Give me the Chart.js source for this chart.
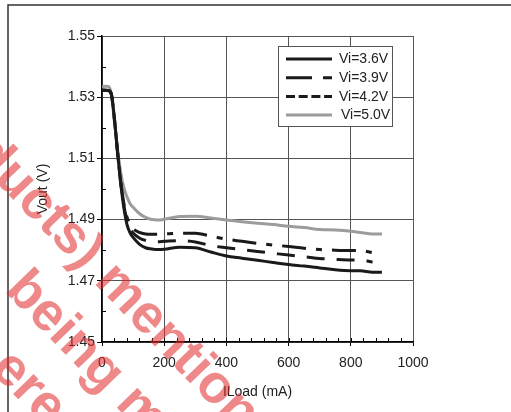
<!DOCTYPE html>
<html>
<head>
<meta charset="utf-8">
<script src="https://cdn.jsdelivr.net/npm/chart.js@4.4.1/dist/chart.umd.min.js"></script>
<style>
  html, body { margin: 0; padding: 0; background: #fff; }
  #wrap { width: 511px; height: 412px; }
</style>
</head>
<body>
<div id="wrap"><canvas id="vout" width="511" height="412"></canvas></div>
<script>
// load current (mA), shared by all curves
const loadMa = [0, 10, 20, 30, 40, 50, 60, 70, 80, 90, 100, 120, 140, 160, 180, 200,
                250, 300, 350, 400, 450, 500, 550, 600, 650, 700, 750, 800, 830, 870, 900];

// Vout (V) per input voltage
const vout36 = [1.5322, 1.5323, 1.5322, 1.5310, 1.5230, 1.5120, 1.5020, 1.4940, 1.4885, 1.4857,
                1.4842, 1.4820, 1.4808, 1.4804, 1.4802, 1.4803, 1.4810, 1.4808, 1.4794, 1.4781,
                1.4774, 1.4767, 1.4760, 1.4753, 1.4748, 1.4742, 1.4736, 1.4733, 1.4733, 1.4728, 1.4728];
const vout39 = [1.5322, 1.5323, 1.5322, 1.5310, 1.5228, 1.5120, 1.5025, 1.4955, 1.4910, 1.4885,
                1.4870, 1.4858, 1.4853, 1.4852, 1.4852, 1.4853, 1.4855, 1.4855, 1.4846, 1.4836,
                1.4829, 1.4822, 1.4817, 1.4812, 1.4806, 1.4802, 1.4800, 1.4799, 1.4799, 1.4792, null];
const vout42 = [1.5322, 1.5323, 1.5322, 1.5310, 1.5228, 1.5120, 1.5022, 1.4948, 1.4900, 1.4870,
                1.4856, 1.4840, 1.4832, 1.4829, 1.4828, 1.4829, 1.4831, 1.4827, 1.4815, 1.4808,
                1.4802, 1.4796, 1.4790, 1.4784, 1.4779, 1.4773, 1.4770, 1.4768, 1.4768, 1.4761, null];
const vout50 = [1.5334, 1.5336, 1.5335, 1.5310, 1.5220, 1.5130, 1.5055, 1.5005, 1.4975, 1.4953,
                1.4940, 1.4920, 1.4907, 1.4900, 1.4899, 1.4901, 1.4910, 1.4911, 1.4905, 1.4899,
                1.4893, 1.4888, 1.4884, 1.4878, 1.4874, 1.4868, 1.4866, 1.4862, 1.4858, 1.4853, 1.4853];

const seriesLabels = ["Vi=3.6V", "Vi=3.9V", "Vi=4.2V", "Vi=5.0V"];
const xTicks = [0, 200, 400, 600, 800, 1000];
const yTicks = [1.45, 1.47, 1.49, 1.51, 1.53, 1.55];

const FONT = "'Liberation Sans', Arial, sans-serif";

function pts(ys) {
    return loadMa.map((x, i) => ({ x: x, y: ys[i] }));
}

// frame around the figure
const framePlugin = {
    id: "frame",
    beforeDraw(chart) {
        const ctx = chart.ctx;
        ctx.save();
        ctx.fillStyle = "#fff";
        ctx.fillRect(0, 0, chart.width, chart.height);
        ctx.strokeStyle = "#333";
        ctx.lineWidth = 1.5;
        ctx.beginPath();
        ctx.moveTo(8, chart.height);
        ctx.lineTo(8, 5);
        ctx.lineTo(chart.width, 5);
        ctx.stroke();
        ctx.restore();
    }
};

// small inward ticks between the labelled ones
const minorTicks = {
    id: "minorTicks",
    afterDatasetsDraw(chart) {
        const ctx = chart.ctx, xs = chart.scales.x, ys = chart.scales.y;
        const a = chart.chartArea;
        ctx.save();
        ctx.strokeStyle = "#000";
        ctx.lineWidth = 1;
        ctx.beginPath();
        for (let v = 40; v < 1000; v += 40) {
            const px = Math.round(xs.getPixelForValue(v)) + 0.5;
            ctx.moveTo(px, a.bottom);
            ctx.lineTo(px, a.bottom - 4);
        }
        for (let k = 1; k < 10; k += 2) {
            const py = Math.round(ys.getPixelForValue(1.45 + k * 0.01)) + 0.5;
            ctx.moveTo(a.left, py);
            ctx.lineTo(a.left + 4, py);
        }
        ctx.stroke();
        ctx.restore();
    }
};

// boxed legend in the upper right of the plot
const boxLegend = {
    id: "boxLegend",
    afterDatasetsDraw(chart) {
        const ctx = chart.ctx;
        const rows = [59, 77.7, 96.4, 115];
        const dashes = [[], [26, 11, 9, 100], [9, 3.7], []];
        ctx.save();
        ctx.fillStyle = "#fff";
        ctx.fillRect(278.5, 46.5, 114, 80);
        ctx.strokeStyle = "#555";
        ctx.lineWidth = 1;
        ctx.strokeRect(278.5, 46.5, 114, 80);
        chart.data.datasets.forEach((ds, i) => {
            ctx.strokeStyle = ds.borderColor;
            ctx.lineWidth = 3;
            ctx.setLineDash(dashes[i]);
            ctx.beginPath();
            ctx.moveTo(286, rows[i]);
            ctx.lineTo(332, rows[i]);
            ctx.stroke();
            ctx.setLineDash([]);
            ctx.fillStyle = "#222";
            ctx.font = "14px " + FONT;
            ctx.textBaseline = "middle";
            ctx.fillText(ds.label, i === 3 ? 341 : 339, rows[i] + 0.5);
        });
        ctx.restore();
    }
};

// red watermark text lying over the figure
const watermark = {
    id: "watermark",
    afterDraw(chart) {
        const ctx = chart.ctx;
        ctx.save();
        ctx.fillStyle = "rgba(225, 40, 40, 0.55)";
        ctx.font = "bold 54px " + FONT;
        ctx.textBaseline = "alphabetic";
        ctx.translate(-30, 155);
        ctx.rotate(46 * Math.PI / 180);
        ctx.fillText("ducts) mentione", 0, 0);
        ctx.fillText(", being m", 91, 70);
        ctx.fillText("ere", 168, 135);
        ctx.restore();
    }
};

const ctx = document.getElementById("vout").getContext("2d");
new Chart(ctx, {
    type: "line",
    data: {
        datasets: [
            { label: seriesLabels[0], data: pts(vout36), borderColor: "#1a1a1a", borderWidth: 3 },
            { label: seriesLabels[1], data: pts(vout39), borderColor: "#1a1a1a", borderWidth: 3, borderDash: [24, 10, 6, 10] },
            { label: seriesLabels[2], data: pts(vout42), borderColor: "#1a1a1a", borderWidth: 3, borderDash: [18, 12] },
            { label: seriesLabels[3], data: pts(vout50), borderColor: "#9c9c9c", borderWidth: 3 }
        ]
    },
    options: {
        responsive: false,
        animation: false,
        devicePixelRatio: 1,
        spanGaps: false,
        cubicInterpolationMode: "monotone",
        elements: { point: { radius: 0 } },
        layout: { padding: { left: 0, top: 36, right: 98, bottom: 0 } },
        plugins: { legend: { display: false }, tooltip: { enabled: false } },
        scales: {
            x: {
                type: "linear",
                min: 0, max: 1000,
                afterFit(s) { s.height = 70; },
                afterBuildTicks(s) { s.ticks = xTicks.map(v => ({ value: v })); },
                ticks: { color: "#222", font: { family: FONT, size: 14 }, padding: 9, maxRotation: 0,
                         callback: v => String(v) },
                grid: { color: "#555", lineWidth: 1, tickLength: 4, tickColor: "#000" },
                border: { color: "#000", width: 1.5 },
                title: { display: true, text: "ILoad (mA)", color: "#222",
                         font: { family: FONT, size: 14 }, padding: { bottom: 11.6 } }
            },
            y: {
                type: "linear",
                min: 1.45, max: 1.55,
                afterFit(s) { s.width = 102; },
                afterBuildTicks(s) { s.ticks = yTicks.map(v => ({ value: v })); },
                ticks: { color: "#222", font: { family: FONT, size: 14 }, padding: 2,
                         callback: v => v.toFixed(2) },
                grid: { color: "#555", lineWidth: 1, tickLength: 5, tickColor: "#000" },
                border: { color: "#000", width: 1.5 },
                title: { display: true, text: "Vout (V)", color: "#222",
                         font: { family: FONT, size: 14 }, padding: { top: 34.6 } }
            }
        }
    },
    plugins: [framePlugin, minorTicks, boxLegend, watermark]
});
</script>
</body>
</html>
